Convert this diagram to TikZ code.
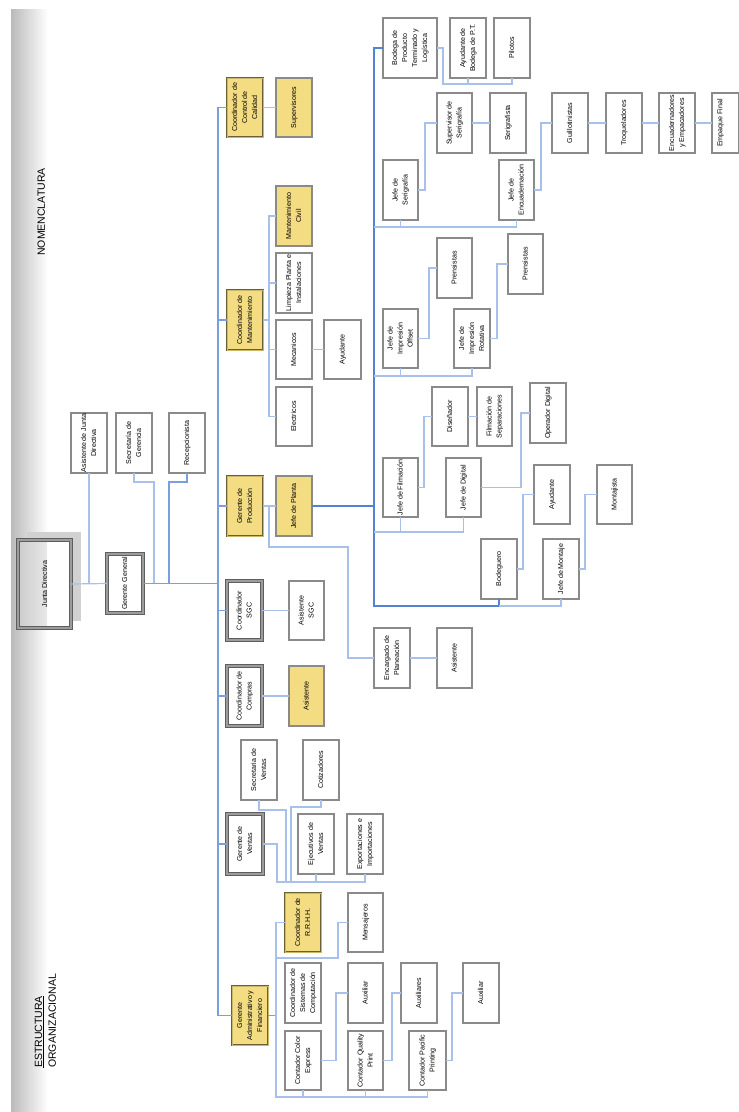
\documentclass[tikz,border=0pt]{standalone}
\usepackage{fontspec}
\setmainfont{Liberation Sans}
\usepackage{graphicx}
\definecolor{yfill}{HTML}{F3DC82}
\definecolor{bgray}{HTML}{8A8A8A}
\definecolor{dgray}{HTML}{5E5E5E}
\definecolor{lgray}{HTML}{9C9C9C}
\definecolor{ydark}{HTML}{6B6035}
\definecolor{ymid}{HTML}{C9B86C}
\definecolor{lblue}{HTML}{A7C1EA}
\definecolor{mblue}{HTML}{7A9FDD}
\definecolor{dblue}{HTML}{5282D2}
\newcommand\B[7]{\node[#1, minimum width={(#5-#3)*1pt}, minimum height={(#6-#4)*1pt}] (#2) at ({(#3+#5)/2},{(#4+#6)/2}) {\rotatebox{90}{\begin{tabular}{@{}c@{}}#7\end{tabular}}};}
\tikzset{
 base/.style={inner sep=0pt, outer sep=0pt, font=\fontsize{7.1}{10}\selectfont},
 wbox/.style={base, draw=bgray, line width=1.1pt, fill=white},
 ybox/.style={base, draw=bgray, line width=1.1pt, fill=yfill},
 wdbl/.style={base, draw=dgray, fill=white, line width=0.9pt, double=lgray, double distance=1.3pt},
 ydbl/.style={base, draw=ydark, fill=yfill, line width=0.8pt, double=ymid, double distance=1pt},
 ln/.style={draw=lblue, line width=1.2pt},
 mln/.style={draw=mblue, line width=1.2pt},
 dln/.style={draw=dblue, line width=1.5pt},
 title/.style={rotate=90, inner sep=0pt, font=\fontsize{10.5}{12}\selectfont},
}
\begin{document}
\begin{tikzpicture}[x=1pt,y=-1pt]
\useasboundingbox (0,0) rectangle (739,1112);
% band
\shade[left color=black!27, right color=white] (11,9) rectangle (48,1112);
\node[title, anchor=base] (nom) at (45,212) {NOMENCLATURA};
\node[title, anchor=base west] (est) at (42,1068) {\underline{ESTRUCTURA}};
\node[title, anchor=base west] (org) at (56,1068) {ORGANIZACIONAL};
% junta shadow
\fill[black!18] (27,532) rectangle (81,621);
\node[wdbl, minimum width=53pt, minimum height=88pt,
  path picture={\shade[left color=black!20, right color=white] (path picture bounding box.south west) rectangle ([xshift=29pt]path picture bounding box.north west);}]
  (junta) at (44.5,584) {\rotatebox{90}{Junta Directiva}};
% top management column
\B{wdbl}{gg}{107}{554}{143}{613}{Gerente General}
\B{wbox}{ajd}{71}{413}{107}{473}{Asistente de Junta\\Directiva}
\B{wbox}{sger}{116}{413}{152}{473}{Secretaría de\\Gerencia}
\B{wbox}{rec}{169}{413}{205}{473}{Recepcionista}
% directors
\B{ydbl}{cal}{227}{78}{263}{137}{Coordinador de\\Control de\\Calidad}
\B{ybox}{sup}{276}{78}{312}{137}{Supervisores}
\B{ybox}{mciv}{276}{186}{312}{246}{Mantenimiento\\Civil}
\B{wbox}{limp}{276}{253}{312}{313}{Limpieza Planta e\\Instalaciones}
\B{ydbl}{cman}{227}{290}{263}{350}{Coordinador de\\Mantenimiento}
\B{wbox}{mec}{276}{320}{312}{379}{Mecanicos}
\B{wbox}{ayu1}{324}{320}{361}{379}{Ayudante}
\B{wbox}{ele}{276}{387}{312}{446}{Electricos}
\B{ydbl}{gprod}{227}{476}{263}{536}{Gerente de\\Producción}
\B{ybox}{jpla}{276}{476}{312}{536}{Jefe de Planta}
\B{wbox}{encp}{374}{628}{410}{688}{Encargado de\\Planeación}
\B{wbox}{asp}{437}{628}{472}{688}{Asistente}
\B{wdbl}{csgc}{227}{581}{262}{640}{Coordinador\\SGC}
\B{wbox}{asgc}{289}{581}{324}{640}{Asistente\\SGC}
\B{wdbl}{ccom}{227}{666}{262}{726}{Coordinador de\\Compras}
\B{ybox}{acom}{289}{666}{324}{726}{Asistente}
\B{wbox}{sven}{241}{740}{277}{800}{Secretaria de\\Ventas}
\B{wbox}{cot}{303}{740}{339}{800}{Cotizadores}
\B{wdbl}{gven}{227}{814}{263}{874}{Gerente de\\Ventas}
\B{wbox}{ejv}{298}{814}{334}{874}{Ejecutivos de\\Ventas}
\B{wbox}{exp}{347}{814}{383}{874}{Exportaciones e\\Importaciones}
\B{ydbl}{rrhh}{285}{893}{321}{952}{Coordinador de\\R.R.H.H.}
\B{wbox}{men}{348}{893}{383}{952}{Mensajeros}
\B{ydbl}{gadm}{232}{986}{268}{1045}{Gerente\\Administrativo y\\Financiero}
\B{wbox}{csis}{285}{963}{321}{1023}{Coordinador de\\Sistemas de\\Computación}
\B{wbox}{ccol}{285}{1031}{321}{1090}{Contador Color\\Express}
\B{wbox}{aux1}{348}{963}{383}{1023}{Auxiliar}
\B{wbox}{cqp}{348}{1031}{383}{1090}{Contador Quality\\Print}
\B{wbox}{auxs}{401}{963}{437}{1023}{Auxiliares}
\B{wbox}{cpp}{409}{1031}{446}{1090}{Contador Pacific\\Printing}
\B{wbox}{aux2}{463}{963}{499}{1023}{Auxiliar}
% production
\B{wbox}{bod}{383}{18}{437}{78}{Bodega de\\Producto\\Terminado y\\Logística}
\B{wbox}{abod}{450}{18}{486}{78}{Ayudante de\\Bodega de P.T.}
\B{wbox}{pil}{494}{18}{530}{78}{Pilotos}
\B{wbox}{jser}{383}{160}{418}{220}{Jefe de\\Serigrafía}
\B{wbox}{sser}{437}{93}{472}{153}{Supervisor de\\Serigrafía}
\B{wbox}{seri}{490}{93}{526}{153}{Serigrafista}
\B{wbox}{jenc}{499}{160}{534}{220}{Jefe de\\Encuadernación}
\B{wbox}{gui}{552}{93}{588}{153}{Guillotinistas}
\B{wbox}{tro}{606}{93}{642}{153}{Troqueladores}
\B{wbox}{encu}{659}{93}{695}{153}{Encuadernadores\\y Empacadores}
\B{wbox}{emp}{712}{93}{738.5}{153}{Empaque Final\\~}
\B{wbox}{joff}{383}{309}{418}{368}{Jefe de\\Impresión\\Offset}
\B{wbox}{pre1}{437}{238}{472}{298}{Prensistas}
\B{wbox}{jrot}{454}{309}{490}{368}{Jefe de\\Impresión\\Rotativa}
\B{wbox}{pre2}{508}{234}{543}{294}{Prensistas}
\B{wbox}{dis}{432}{387}{468}{446}{Diseñador}
\B{wbox}{fsep}{477}{387}{512}{446}{Filmación de\\Separaciones}
\B{wbox}{opd}{530}{383}{566}{443}{Operador Digital}
\B{wbox}{jfil}{383}{458}{418}{517}{Jefe de Filmación}
\B{wbox}{jdig}{446}{458}{481}{517}{Jefe de Digital}
\B{wbox}{ayu2}{534}{465}{570}{524}{Ayudante}
\B{wbox}{mont}{597}{465}{632}{524}{Montajista}
\B{wbox}{bodg}{481}{539}{517}{599}{Bodeguero}
\B{wbox}{jmon}{543}{539}{579}{599}{Jefe de Montaje}
% coordinates for junctions
\coordinate (j1) at (154,583.5);
\coordinate (j2) at (169,583.5);
\coordinate (pl) at (348,547);
\coordinate (pb) at (374,606);
\coordinate (s1) at (374,227);
\coordinate (s2) at (374,376);
\coordinate (s3) at (374,532);
\coordinate (v1) at (286,882);
\coordinate (v2) at (291,882);
\coordinate (a2) at (276,958);
% top connectors
\draw[ln] (junta.east) -- (gg.west);
\draw[ln] (ajd.south) -- (ajd.south |- gg.west);
\draw[ln] (sger.south) -- ++(0,9) -| (j1);
\draw[mln] (rec.south) -- ++(0,9) -| (j2);
\draw[mln] (gg.east) -- ++(75,0);
% main bus
\draw[mln] (cal.west) -- ++(-9,0) |- (gadm.west);
\foreach \n in {cman,gprod,csgc,ccom,gven} {\draw[mln] (\n.west) -- ++(-9,0);}
% quality & maintenance
\draw[ln] (cal.east) -- (sup.west);
\draw[ln] (cman.east) -- ++(6,0);
\draw[ln] (mciv.west) -- ++(-7,0) |- (ele.west);
\draw[ln] (limp.west) -- ++(-7,0);
\draw[ln] (mec.west) -- ++(-7,0);
\draw[ln] (mec.east) -- (ayu1.west);
% production
\draw[ln] (gprod.east) -- (jpla.west);
\draw[ln] (gprod.east) ++(6,0) |- (pl) |- (encp.west);
\draw[ln] (encp.east) -- (asp.west);
\draw[dln] (bod.west) -- ++(-9,0) -- (pb) -| (bodg.south);
\draw[dln] (jpla.east) -- (jpla.east -| pb);
\draw[ln] (bodg.south) ++(0,7) -| (jmon.south);
\draw[ln] (s1) -| (jser.south);
\draw[ln] (s1) -| (jenc.south);
\draw[ln] (s2) -| (joff.south);
\draw[ln] (s2) -| (jrot.south);
\draw[ln] (s3) -| (jfil.south);
\draw[ln] (s3) -| (jdig.south);
\draw[ln] (bod.east) -- ++(6,0) -- ++(0,36) -| (pil.south);
\draw[ln] (abod.south) -- ++(0,6);
\draw[ln] (jser.east) -- ++(7,0) |- (sser.west);
\draw[ln] (sser.east) -- (seri.west);
\draw[ln] (jenc.east) -- ++(7,0) |- (gui.west);
\draw[ln] (gui.east) -- (tro.west);
\draw[ln] (tro.east) -- (encu.west);
\draw[ln] (encu.east) -- (emp.west);
\draw[ln] (joff.east) -- ++(11,0) |- (pre1.west);
\draw[ln] (jrot.east) -- ++(7,0) |- (pre2.west);
\draw[ln] (jfil.east) -- ++(6,0) |- (dis.west);
\draw[ln] (dis.east) -- (fsep.west);
\draw[ln] (jdig.east) -- ++(40,0) |- (opd.west);
\draw[ln] (bodg.east) -- ++(6,0) |- (ayu2.west);
\draw[ln] (jmon.east) -- ++(6,0) |- (mont.west);
% sgc, compras, ventas
\draw[ln] (csgc.east) -- (asgc.west);
\draw[ln] (ccom.east) -- (acom.west);
\draw[ln] (gven.east) -- ++(14,0) -- ++(0,38) -| (exp.south);
\draw[ln] (ejv.south) -- ++(0,8);
\draw[ln] (sven.south) -- ++(0,10) -| (v1);
\draw[ln] (cot.south) -- ++(0,7) -| (v2);
% administracion
\draw[mln] (gadm.east) -- ++(8,0);
\draw[ln] (rrhh.west) -- ++(-9,0) -- ++(0,174.5) -| (cpp.south);
\draw[ln] (ccol.south) -- ++(0,7);
\draw[ln] (cqp.south) -- ++(0,7);
\draw[ln] (men.west) -- ++(-10,0) |- (a2);
\draw[ln] (ccol.east) -- ++(15,0) |- (aux1.west);
\draw[ln] (cqp.east) -- ++(9,0) |- (auxs.west);
\draw[ln] (cpp.east) -- ++(6,0) |- (aux2.west);
\end{tikzpicture}
\end{document}
